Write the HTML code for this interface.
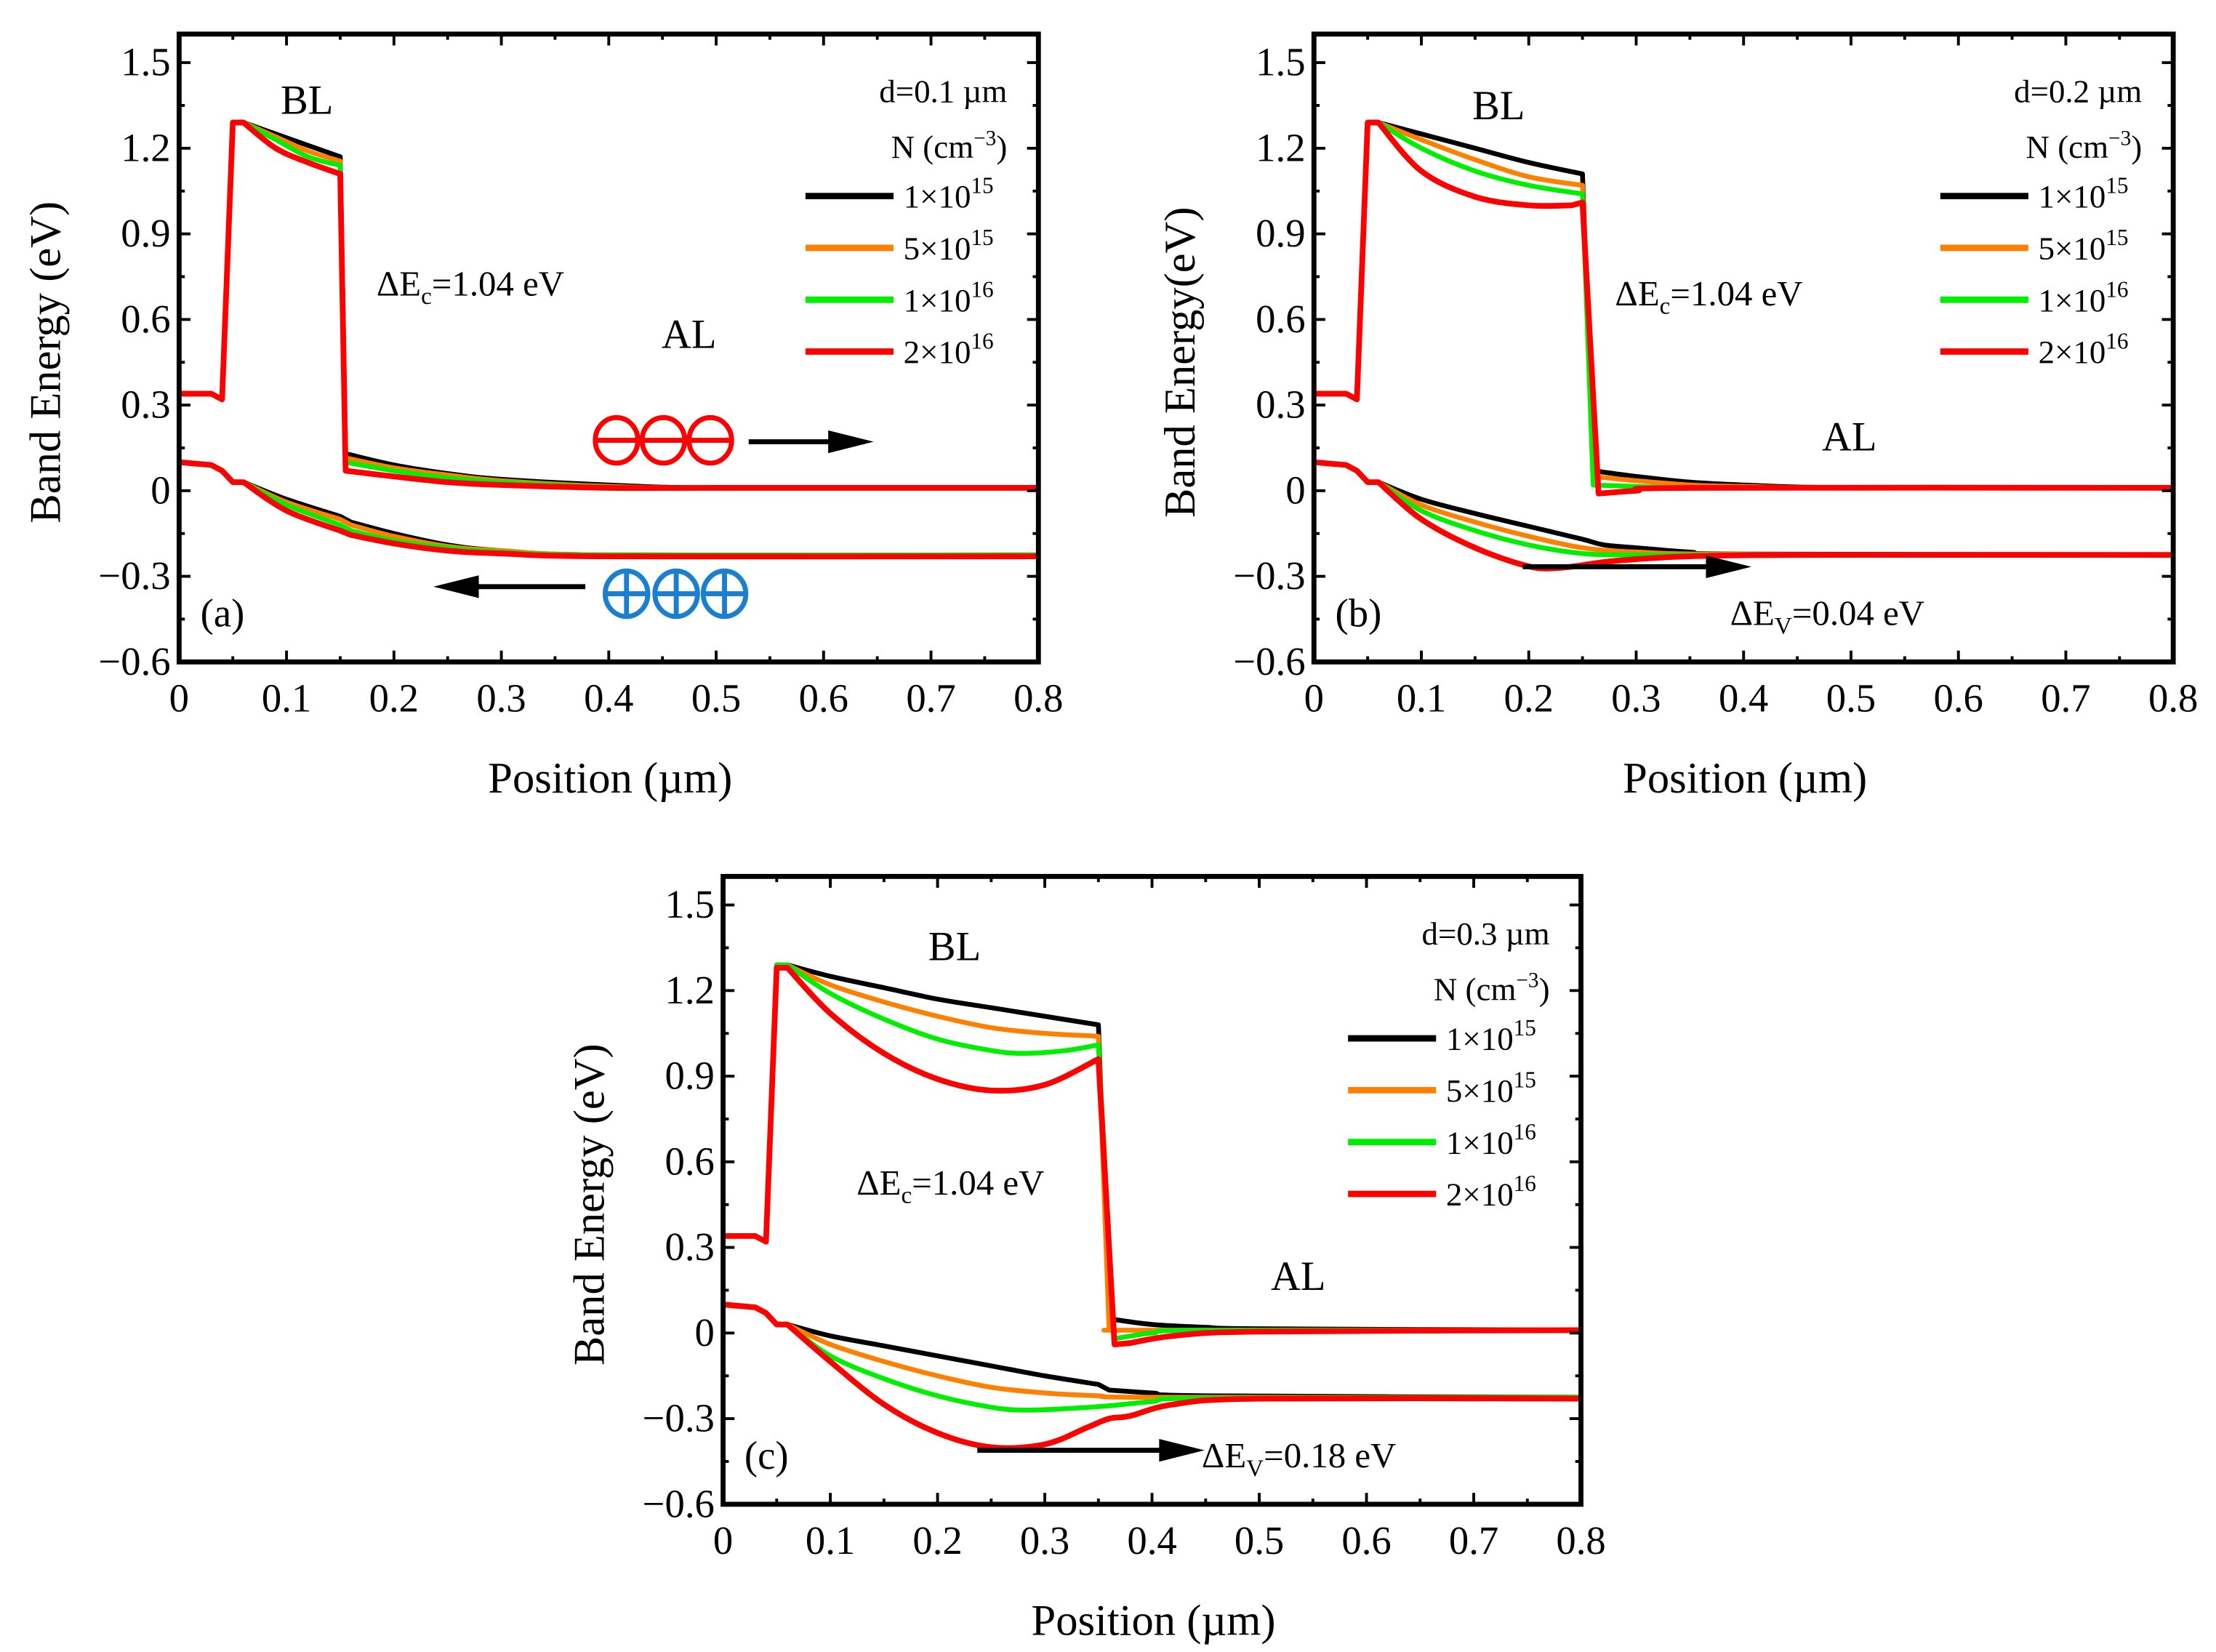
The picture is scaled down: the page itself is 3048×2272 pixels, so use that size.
<!DOCTYPE html>
<html><head><meta charset="utf-8"><style>html,body{margin:0;padding:0;background:#fff}svg{display:block}svg text{font-family:"Liberation Serif","DejaVu Serif",serif}</style></head>
<body>
<svg id="fig" xmlns="http://www.w3.org/2000/svg" width="3048" height="2272" viewBox="0 0 1560 1163" font-family="Liberation Serif, serif"></svg>
<script>
// ---- data (x in µm, E in eV) ----
const seriesNames = ["1×10^15","5×10^15","1×10^16","2×10^16"];
const seriesColors = ["#000000","#ff8000","#00ee00","#ff0000"];
const xTicks = [0,0.1,0.2,0.3,0.4,0.5,0.6,0.7,0.8];
const yTicks = [1.5,1.2,0.9,0.6,0.3,0,-0.3,-0.6];
const yTickLabels = ["1.5","1.2","0.9","0.6","0.3","0","\u22120.3","\u22120.6"];
const xTickLabels = ["0","0.1","0.2","0.3","0.4","0.5","0.6","0.7","0.8"];

// panel (a) d=0.1
const cbA_black=[[0,0.34],[0.03,0.34],[0.04,0.32],[0.05,1.29],[0.06,1.29],[0.09,1.25],[0.12,1.21],[0.15,1.17],[0.155,0.13],[0.2,0.09],[0.25,0.06],[0.3,0.04],[0.4,0.02],[0.5,0.01],[0.8,0.01]];
const cbA_orange=[[0,0.34],[0.03,0.34],[0.04,0.32],[0.05,1.29],[0.06,1.29],[0.09,1.24],[0.12,1.19],[0.15,1.155],[0.155,0.115],[0.2,0.08],[0.25,0.055],[0.3,0.035],[0.4,0.015],[0.5,0.01],[0.8,0.01]];
const cbA_green=[[0,0.34],[0.03,0.34],[0.04,0.32],[0.05,1.29],[0.06,1.29],[0.09,1.23],[0.12,1.17],[0.15,1.14],[0.155,0.1],[0.2,0.07],[0.25,0.045],[0.3,0.03],[0.4,0.012],[0.5,0.01],[0.8,0.01]];
const cbA_red=[[0,0.34],[0.03,0.34],[0.04,0.32],[0.05,1.29],[0.06,1.29],[0.09,1.2],[0.12,1.15],[0.15,1.11],[0.155,0.07],[0.2,0.05],[0.25,0.03],[0.3,0.02],[0.4,0.01],[0.5,0.01],[0.8,0.01]];
const vbA_black=[[0,0.1],[0.03,0.09],[0.04,0.07],[0.05,0.03],[0.06,0.03],[0.1,-0.03],[0.15,-0.09],[0.16,-0.11],[0.2,-0.15],[0.25,-0.19],[0.3,-0.21],[0.4,-0.225],[0.8,-0.225]];
const vbA_orange=[[0,0.1],[0.03,0.09],[0.04,0.07],[0.05,0.03],[0.06,0.03],[0.1,-0.04],[0.15,-0.1],[0.16,-0.12],[0.2,-0.16],[0.25,-0.195],[0.3,-0.21],[0.4,-0.225],[0.8,-0.225]];
const vbA_green=[[0,0.1],[0.03,0.09],[0.04,0.07],[0.05,0.03],[0.06,0.03],[0.1,-0.05],[0.15,-0.12],[0.16,-0.14],[0.2,-0.175],[0.25,-0.2],[0.3,-0.215],[0.4,-0.225],[0.8,-0.225]];
const vbA_red=[[0,0.1],[0.03,0.09],[0.04,0.07],[0.05,0.03],[0.06,0.03],[0.1,-0.07],[0.15,-0.14],[0.16,-0.155],[0.2,-0.185],[0.25,-0.21],[0.3,-0.22],[0.4,-0.23],[0.8,-0.23]];

// panel (b) d=0.2
const cbB_black=[[0,0.34],[0.03,0.34],[0.04,0.32],[0.05,1.29],[0.06,1.29],[0.1,1.25],[0.15,1.2],[0.2,1.15],[0.25,1.11],[0.26,0.07],[0.3,0.05],[0.35,0.03],[0.4,0.02],[0.5,0.01],[0.8,0.01]];
const cbB_orange=[[0,0.34],[0.03,0.34],[0.04,0.32],[0.05,1.29],[0.06,1.29],[0.1,1.23],[0.15,1.16],[0.2,1.1],[0.25,1.07],[0.26,0.05],[0.3,0.035],[0.35,0.02],[0.4,0.015],[0.5,0.01],[0.8,0.01]];
const cbB_green=[[0,0.34],[0.03,0.34],[0.04,0.32],[0.05,1.29],[0.06,1.29],[0.1,1.2],[0.15,1.12],[0.2,1.07],[0.25,1.04],[0.26,0.02],[0.3,0.015],[0.35,0.01],[0.5,0.01],[0.8,0.01]];
const cbB_red=[[0,0.34],[0.03,0.34],[0.04,0.32],[0.05,1.29],[0.06,1.29],[0.1,1.12],[0.15,1.03],[0.2,1.0],[0.24,1.0],[0.25,1.01],[0.265,-0.01],[0.3,0.0],[0.35,0.01],[0.8,0.01]];
const vbB_black=[[0,0.1],[0.03,0.09],[0.04,0.07],[0.05,0.03],[0.06,0.03],[0.1,-0.03],[0.15,-0.08],[0.2,-0.125],[0.25,-0.17],[0.27,-0.19],[0.3,-0.2],[0.35,-0.215],[0.4,-0.222],[0.8,-0.225]];
const vbB_orange=[[0,0.1],[0.03,0.09],[0.04,0.07],[0.05,0.03],[0.06,0.03],[0.1,-0.05],[0.15,-0.11],[0.2,-0.16],[0.25,-0.2],[0.3,-0.215],[0.4,-0.223],[0.8,-0.225]];
const vbB_green=[[0,0.1],[0.03,0.09],[0.04,0.07],[0.05,0.03],[0.06,0.03],[0.1,-0.07],[0.15,-0.14],[0.2,-0.19],[0.25,-0.22],[0.3,-0.225],[0.4,-0.225],[0.8,-0.225]];
const vbB_red=[[0,0.1],[0.03,0.09],[0.04,0.07],[0.05,0.03],[0.06,0.03],[0.1,-0.1],[0.15,-0.2],[0.2,-0.265],[0.23,-0.27],[0.27,-0.25],[0.3,-0.24],[0.35,-0.23],[0.45,-0.225],[0.8,-0.225]];

// panel (c) d=0.3
const cbC_black=[[0,0.34],[0.03,0.34],[0.04,0.32],[0.05,1.29],[0.06,1.29],[0.1,1.25],[0.15,1.21],[0.2,1.17],[0.25,1.14],[0.3,1.11],[0.35,1.08],[0.36,0.05],[0.4,0.03],[0.45,0.02],[0.5,0.015],[0.8,0.01]];
const cbC_orange=[[0,0.34],[0.03,0.34],[0.04,0.32],[0.05,1.29],[0.06,1.29],[0.1,1.22],[0.15,1.16],[0.2,1.11],[0.25,1.07],[0.3,1.05],[0.35,1.04],[0.36,0.01],[0.4,0.01],[0.8,0.01]];
const cbC_green=[[0,0.34],[0.03,0.34],[0.04,0.32],[0.05,1.29],[0.06,1.29],[0.1,1.19],[0.15,1.1],[0.2,1.03],[0.25,0.99],[0.28,0.98],[0.32,0.99],[0.35,1.01],[0.365,-0.02],[0.4,0.0],[0.45,0.01],[0.8,0.01]];
const cbC_red=[[0,0.34],[0.03,0.34],[0.04,0.32],[0.05,1.28],[0.06,1.28],[0.1,1.12],[0.15,0.98],[0.2,0.89],[0.25,0.85],[0.3,0.87],[0.35,0.96],[0.365,-0.04],[0.38,-0.035],[0.42,-0.01],[0.5,0.005],[0.8,0.01]];
const vbC_black=[[0,0.1],[0.03,0.09],[0.04,0.07],[0.05,0.03],[0.06,0.03],[0.1,-0.01],[0.15,-0.045],[0.2,-0.08],[0.25,-0.115],[0.3,-0.15],[0.35,-0.18],[0.36,-0.2],[0.4,-0.21],[0.45,-0.22],[0.8,-0.225]];
const vbC_orange=[[0,0.1],[0.03,0.09],[0.04,0.07],[0.05,0.03],[0.06,0.03],[0.1,-0.04],[0.15,-0.1],[0.2,-0.15],[0.25,-0.19],[0.3,-0.21],[0.35,-0.22],[0.4,-0.225],[0.8,-0.225]];
const vbC_green=[[0,0.1],[0.03,0.09],[0.04,0.07],[0.05,0.03],[0.06,0.03],[0.1,-0.08],[0.15,-0.16],[0.2,-0.22],[0.25,-0.26],[0.28,-0.27],[0.32,-0.265],[0.36,-0.255],[0.4,-0.24],[0.45,-0.228],[0.8,-0.225]];
const vbC_red=[[0,0.1],[0.03,0.09],[0.04,0.07],[0.05,0.03],[0.06,0.03],[0.1,-0.1],[0.15,-0.25],[0.2,-0.35],[0.25,-0.4],[0.3,-0.39],[0.34,-0.33],[0.36,-0.3],[0.38,-0.29],[0.42,-0.25],[0.5,-0.23],[0.8,-0.23]];

const NS="http://www.w3.org/2000/svg";
const FONT='"Liberation Serif", "DejaVu Serif", serif';
const svg=document.getElementById('fig');
function el(tag,attrs,parent){const e=document.createElementNS(NS,tag);for(const k in attrs)e.setAttribute(k,attrs[k]);(parent||svg).appendChild(e);return e;}
function txt(parent,x,y,str,size,anchor,name){const t=el('text',{x:x,y:y,'font-size':size,'text-anchor':anchor||'start','font-family':FONT},parent);t.style.fontFamily=FONT;t.innerHTML=str;


return t;}

// smooth path: straight segments at jumps, Bezier elsewhere
function smoothPath(pts,sx,sy){
  const P=pts.map(q=>[sx(q[0]),sy(q[1])]);
  const isJump=i=>{const a=pts[i],b=pts[i+1];return (b[0]-a[0])<=0.0155||Math.abs(b[1]-a[1])>0.25;};
  let d='M'+P[0][0].toFixed(2)+','+P[0][1].toFixed(2);
  for(let i=0;i<P.length-1;i++){
    const a=P[i],b=P[i+1];
    if(isJump(i)){d+=' L'+b[0].toFixed(2)+','+b[1].toFixed(2);continue;}
    const pa=(i>0&&!isJump(i-1))?P[i-1]:a;
    const nb=(i+2<P.length&&!isJump(i+1))?P[i+2]:b;
    const c1=[a[0]+(b[0]-pa[0])/6,a[1]+(b[1]-pa[1])/6];
    const c2=[b[0]-(nb[0]-a[0])/6,b[1]-(nb[1]-a[1])/6];
    d+=' C'+c1.map(v=>v.toFixed(2)).join(',')+' '+c2.map(v=>v.toFixed(2)).join(',')+' '+b[0].toFixed(2)+','+b[1].toFixed(2);
  }
  return d;
}

function panel(id,L,R,T,B,cb,vb,ann){
  const g=el('g',{});
  
  
  const sx=v=>L+(R-L)*v/0.8;
  const sy=v=>B-(B-T)*(v+0.6)/2.2;
  const clip=el('clipPath',{id:'clip'+id},g);el('rect',{x:L,y:T,width:R-L,height:B-T},clip);
  const lines=el('g',{'clip-path':'url(#clip'+id+')'},g);
  [cb,vb].forEach((set,k)=>{set.forEach((pts,i)=>{
    const p=el('path',{d:smoothPath(pts,sx,sy),fill:'none',stroke:seriesColors[i],'stroke-width':i==3?4:3.4,'stroke-linejoin':'round'},lines);
    
    
  });});
  const tk=el('g',{stroke:'#000','stroke-width':2},g);
  for(let v=0;v<=0.8001;v+=0.05){const x=sx(v);const len=(Math.round(v*100)%10==0)?8:4;
    el('line',{x1:x,y1:B,x2:x,y2:B-len},tk);el('line',{x1:x,y1:T,x2:x,y2:T+len},tk);}
  for(let v=-0.6;v<=1.6001;v+=0.15){const y=sy(v);const len=(Math.abs(Math.round(v*100))%30==0)?8:4;
    el('line',{x1:L,y1:y,x2:L+len,y2:y},tk);el('line',{x1:R,y1:y,x2:R-len,y2:y},tk);}
  const frame=el('rect',{x:L,y:T,width:R-L,height:B-T,fill:'none',stroke:'#000','stroke-width':3.5},g);
  
  
  xTicks.forEach((v,i)=>txt(g,sx(v),B+35,xTickLabels[i],28,'middle','x-tick-label'));
  yTicks.forEach((v,i)=>txt(g,L-6,sy(v)+9,yTickLabels[i],28,'end','y-tick-label'));
  txt(g,(L+R)/2+1,B+92,'Position (µm)',31,'middle','x-axis-title');
  const yt=txt(g,0,0,ann.ytitle,31,'middle','y-axis-title');
  yt.setAttribute('transform','translate('+(L-84)+','+(sy(0.45))+') rotate(-90)');
  txt(g,R-22,T+48,ann.d,23,'end','thickness-label');
  txt(g,R-22,T+87,'N (cm<tspan dy="-9" font-size="15">\u22123</tspan><tspan dy="9">)</tspan>',23,'end','legend-title');
  const exps=['15','15','16','16'],mant=['1','5','1','2'];
  for(let i=0;i<4;i++){const y=T+114+i*36.5;
    const ln=el('line',{x1:R-164,y1:y,x2:R-102,y2:y,stroke:seriesColors[i],'stroke-width':4.5},g);
    
    
    txt(g,R-95,y+8,mant[i]+'×10<tspan dy="-10" font-size="16">'+exps[i]+'</tspan>',23,'start','legend-entry-'+(i+1));}
  txt(g,ann.bl[0],ann.bl[1],'BL',29,'middle','bl-label');
  txt(g,ann.al[0],ann.al[1],'AL',29,'middle','al-label');
  txt(g,ann.ec[0],ann.ec[1],'ΔE<tspan dy="6" font-size="17">c</tspan><tspan dy="-6">=1.04 eV</tspan>',25,'start','delta-ec-label');
  txt(g,L+15,B-25,ann.tag,28,'start','panel-tag');
  return {g,sx,sy};
}
function arrow(g,x1,x2,y,name){
  const a=el('g',{},g);
  
  
  const dir=x2>x1?1:-1;
  el('line',{x1:x1,y1:y,x2:x2-dir*28,y2:y,stroke:'#000','stroke-width':3.5},a);
  el('polygon',{points:x2+','+y+' '+(x2-dir*32)+','+(y-8)+' '+(x2-dir*32)+','+(y+8),fill:'#000'},a);
}

const A=panel('a',126,731,24,466,[cbA_black,cbA_orange,cbA_green,cbA_red],[vbA_black,vbA_orange,vbA_green,vbA_red],
 {ytitle:'Band Energy (eV)',d:'d=0.1 µm',bl:[216,80],al:[485,245],ec:[265,208],tag:'(a)'});
[434,467,500].forEach(cx=>{const c=el('g',{},A.g);
  
  
  el('ellipse',{cx:cx,cy:310,rx:15,ry:16,fill:'none',stroke:'#ff0000','stroke-width':3.5},c);
  el('line',{x1:cx-15,y1:310,x2:cx+15,y2:310,stroke:'#ff0000','stroke-width':3.5},c);});
arrow(A.g,527,615,311,'electron-arrow');
[441,476,510].forEach(cx=>{const c=el('g',{},A.g);
  
  
  el('ellipse',{cx:cx,cy:418,rx:15,ry:16,fill:'none',stroke:'#1a7fd0','stroke-width':3.5},c);
  el('line',{x1:cx-15,y1:418,x2:cx+15,y2:418,stroke:'#1a7fd0','stroke-width':3.5},c);
  el('line',{x1:cx,y1:402,x2:cx,y2:434,stroke:'#1a7fd0','stroke-width':3.5},c);});
arrow(A.g,412,305,413,'hole-arrow');

const Bp=panel('b',925,1530,24,466,[cbB_black,cbB_orange,cbB_green,cbB_red],[vbB_black,vbB_orange,vbB_green,vbB_red],
 {ytitle:'Band Energy(eV)',d:'d=0.2 µm',bl:[1055,84],al:[1302,317],ec:[1137,215],tag:'(b)'});
arrow(Bp.g,1072,1233,399,'delta-ev-arrow');
txt(Bp.g,1218,440,'ΔE<tspan dy="6" font-size="17">V</tspan><tspan dy="-6">=0.04 eV</tspan>',25,'start','delta-ev-label');

const C=panel('c',509,1113,617,1059,[cbC_black,cbC_orange,cbC_green,cbC_red],[vbC_black,vbC_orange,vbC_green,vbC_red],
 {ytitle:'Band Energy (eV)',d:'d=0.3 µm',bl:[672,676],al:[914,908],ec:[603,841],tag:'(c)'});
arrow(C.g,688,848,1021,'delta-ev-arrow');
txt(C.g,846,1033,'ΔE<tspan dy="6" font-size="17">V</tspan><tspan dy="-6">=0.18 eV</tspan>',25,'start','delta-ev-label');
</script>
</body></html>
